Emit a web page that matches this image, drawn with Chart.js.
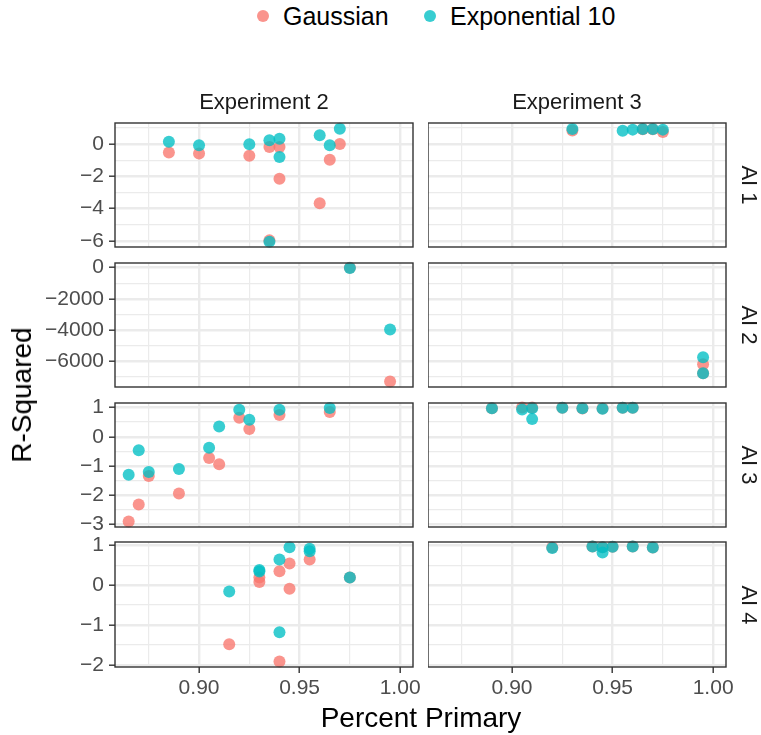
<!DOCTYPE html>
<html>
<head>
<meta charset="utf-8">
<script src="https://cdn.jsdelivr.net/npm/chart.js@4.4.0/dist/chart.umd.min.js"></script>
<style>
  body { margin: 0; background: #fff; font-family: "Liberation Sans", Arial, sans-serif; }
  #wrap { position: relative; width: 761px; height: 735px; overflow: hidden; }
  canvas { position: absolute; }
  .lbl { position: absolute; white-space: nowrap; color: #1A1A1A; line-height: 1; }
  .dot { position: absolute; width: 12px; height: 12px; border-radius: 50%; }
</style>
</head>
<body>
<div id="wrap"></div>
<script>
// tick values
var xMajor = [0.90, 0.95, 1.00];
var xMinor = [0.875, 0.925, 0.975];
var yMajor = [[0, -2, -4, -6], [0, -2000, -4000, -6000], [1, 0, -1, -2, -3], [1, 0, -1, -2]];
var yMinor = [[1, -1, -3, -5], [-1000, -3000, -5000, -7000], [0.5, -0.5, -1.5, -2.5], [0.5, -0.5, -1.5]];
var yLimits = [[-6.37, 1.3], [-7680, 300], [-3.08, 1.15], [-2.05, 1.08]];
var xLimits = [0.8582, 1.0064];

var columns = ["Experiment 2", "Experiment 3"];
var rows = ["AI 1", "AI 2", "AI 3", "AI 4"];
var seriesNames = ["Gaussian", "Exponential 10"];

// [percent primary, r-squared]
var e2ai1Gauss = [[0.885,-0.52],[0.90,-0.58],[0.925,-0.72],[0.935,-0.19],[0.94,-0.19],[0.94,-2.15],[0.96,-3.67],[0.965,-0.97],[0.97,0.0],[0.935,-5.96]];
var e2ai1Exp = [[0.885,0.14],[0.90,-0.08],[0.925,-0.02],[0.935,0.23],[0.94,0.33],[0.94,-0.8],[0.96,0.54],[0.965,-0.08],[0.97,0.95],[0.935,-6.05]];
var e3ai1Gauss = [[0.93,0.84],[0.965,0.91],[0.97,0.92],[0.975,0.74]];
var e3ai1Exp = [[0.93,0.93],[0.955,0.82],[0.96,0.89],[0.965,0.93],[0.97,0.93],[0.975,0.89]];

var e2ai2Gauss = [[0.975,-10],[0.995,-7330]];
var e2ai2Exp = [[0.975,-20],[0.995,-3980]];
var e3ai2Gauss = [[0.995,-6210],[0.995,-6790]];
var e3ai2Exp = [[0.995,-5760],[0.995,-6790]];

var e2ai3Gauss = [[0.865,-2.89],[0.87,-2.31],[0.875,-1.34],[0.89,-1.94],[0.905,-0.73],[0.91,-0.94],[0.92,0.65],[0.925,0.26],[0.94,0.74],[0.965,0.84]];
var e2ai3Exp = [[0.865,-1.30],[0.87,-0.46],[0.875,-1.2],[0.89,-1.10],[0.905,-0.38],[0.91,0.35],[0.92,0.92],[0.925,0.58],[0.94,0.92],[0.965,0.98]];
var e3ai3Gauss = [[0.89,0.97],[0.905,1.0],[0.91,1.0],[0.925,0.99],[0.935,0.96],[0.945,0.96],[0.955,0.99],[0.96,0.99]];
var e3ai3Exp = [[0.89,0.97],[0.905,0.93],[0.91,0.97],[0.91,0.60],[0.925,0.99],[0.935,0.97],[0.945,0.95],[0.955,0.99],[0.96,0.99]];

var e2ai4Gauss = [[0.915,-1.48],[0.93,0.19],[0.93,0.08],[0.94,0.35],[0.94,-1.91],[0.945,0.54],[0.945,-0.09],[0.955,0.64],[0.975,0.19]];
var e2ai4Exp = [[0.915,-0.16],[0.93,0.38],[0.93,0.34],[0.94,0.64],[0.94,-1.18],[0.945,0.95],[0.955,0.91],[0.955,0.85],[0.975,0.19]];
var e3ai4Gauss = [[0.92,0.94],[0.94,0.97],[0.945,0.95],[0.95,0.96],[0.96,0.97],[0.97,0.94]];
var e3ai4Exp = [[0.92,0.93],[0.94,0.97],[0.945,0.95],[0.945,0.82],[0.95,0.96],[0.96,0.97],[0.97,0.94]];

var gaussData = [[e2ai1Gauss, e2ai2Gauss, e2ai3Gauss, e2ai4Gauss], [e3ai1Gauss, e3ai2Gauss, e3ai3Gauss, e3ai4Gauss]];
var expData = [[e2ai1Exp, e2ai2Exp, e2ai3Exp, e2ai4Exp], [e3ai1Exp, e3ai2Exp, e3ai3Exp, e3ai4Exp]];

var red = "rgba(248,118,109,0.78)";
var teal = "rgba(0,191,196,0.78)";

// panel geometry
var colLeft = [115, 428];
var panelW = 298;
var rowTop = [123, 263, 403, 542];
var rowH = [124, 124, 124, 125];
var padTop = 20, padBottom = 20, padRight = 26, xAxisH = 42;

var wrap = document.getElementById("wrap");

function isIn(list, v) {
  return list.some(function (m) { return Math.abs(m - v) < 1e-9; });
}
function fmtY(v) {
  return v < 0 ? "\u2212" + Math.abs(v) : String(v);
}

var borderPlugin = {
  id: "panelBorder",
  afterDatasetsDraw: function (chart) {
    var a = chart.chartArea, ctx = chart.ctx;
    ctx.save();
    ctx.strokeStyle = "#333333";
    ctx.lineWidth = 1.4;
    ctx.strokeRect(a.left, a.top, a.right - a.left, a.bottom - a.top);
    ctx.restore();
  }
};

function toPoints(arr) {
  return arr.map(function (p) { return { x: p[0], y: p[1] }; });
}

function makePanel(c, r) {
  var yW = c == 0 ? 115 : 0;
  var left = c == 0 ? 0 : colLeft[1];
  var bottom = r == 3;
  var pb = bottom ? 0 : padBottom;
  var cv = document.createElement("canvas");
  cv.width = yW + panelW + padRight;
  cv.height = padTop + rowH[r] + (bottom ? xAxisH : pb);
  cv.style.left = left + "px";
  cv.style.top = (rowTop[r] - padTop) + "px";
  wrap.appendChild(cv);

  var xTicks = xMajor.concat(xMinor).sort();
  var yTicks = yMajor[r].concat(yMinor[r]);
  var tickFont = { family: "'Liberation Sans', Arial, sans-serif", size: 21 };

  new Chart(cv, {
    type: "scatter",
    data: {
      datasets: [
        { label: seriesNames[0], data: toPoints(gaussData[c][r]), backgroundColor: red, order: 1 },
        { label: seriesNames[1], data: toPoints(expData[c][r]), backgroundColor: teal, order: 0 }
      ]
    },
    options: {
      responsive: false,
      devicePixelRatio: 1,
      animation: false,
      layout: { autoPadding: false, padding: { top: padTop, right: padRight, left: 0, bottom: pb } },
      elements: { point: { radius: 6, borderWidth: 0, hoverRadius: 6 } },
      clip: false,
      plugins: { legend: { display: false }, tooltip: { enabled: false } },
      scales: {
        x: {
          type: "linear",
          min: xLimits[0], max: xLimits[1],
          afterBuildTicks: function (s) { s.ticks = xTicks.map(function (v) { return { value: v }; }); },
          afterFit: function (s) { s.height = bottom ? xAxisH : 0; },
          border: { display: false },
          grid: {
            color: "#EBEBEB",
            lineWidth: function (ctx) { return isIn(xMajor, ctx.tick.value) ? 2.4 : 1.2; },
            drawTicks: bottom,
            tickLength: 6,
            tickWidth: 1.4,
            tickColor: function (ctx) { return isIn(xMajor, ctx.tick.value) ? "#333333" : "rgba(0,0,0,0)"; }
          },
          ticks: {
            display: bottom,
            autoSkip: false,
            maxRotation: 0,
            padding: 3,
            color: "#4D4D4D",
            font: tickFont,
            callback: function (v) { return isIn(xMajor, v) ? v.toFixed(2) : ""; }
          }
        },
        y: {
          type: "linear",
          min: yLimits[r][0], max: yLimits[r][1],
          afterBuildTicks: function (s) { s.ticks = yTicks.map(function (v) { return { value: v }; }); },
          afterFit: function (s) { s.width = yW; },
          border: { display: false },
          grid: {
            color: "#EBEBEB",
            lineWidth: function (ctx) { return isIn(yMajor[r], ctx.tick.value) ? 2.4 : 1.2; },
            drawTicks: c == 0,
            tickLength: 6,
            tickWidth: 1.4,
            tickColor: function (ctx) { return isIn(yMajor[r], ctx.tick.value) ? "#333333" : "rgba(0,0,0,0)"; }
          },
          ticks: {
            display: c == 0,
            autoSkip: false,
            padding: 5,
            color: "#4D4D4D",
            font: tickFont,
            callback: function (v) { return isIn(yMajor[r], v) ? fmtY(v) : ""; }
          }
        }
      }
    },
    plugins: [borderPlugin]
  });
}

for (var c = 0; c < 2; c++) {
  for (var r = 0; r < 4; r++) {
    makePanel(c, r);
  }
}

function addText(txt, x, y, size, rot, color) {
  var d = document.createElement("div");
  d.className = "lbl";
  d.textContent = txt;
  d.style.fontSize = size + "px";
  if (color) d.style.color = color;
  d.style.left = x + "px";
  d.style.top = y + "px";
  d.style.transform = "translate(-50%,-50%)" + (rot ? " rotate(" + rot + "deg)" : "");
  wrap.appendChild(d);
  return d;
}

// strips
for (var i = 0; i < 2; i++) {
  addText(columns[i], colLeft[i] + panelW / 2, 102, 22);
}
for (var j = 0; j < 4; j++) {
  addText(rows[j], 749, rowTop[j] + rowH[j] / 2, 22, 90);
}

// axis titles
addText("Percent Primary", 421, 718, 28, 0, "#000");
addText("R-Squared", 22, 395, 28, -90, "#000");

// legend
var legendX = [263, 430];
var legendCol = [red, teal];
for (var k = 0; k < 2; k++) {
  var dot = document.createElement("div");
  dot.className = "dot";
  dot.style.background = legendCol[k];
  dot.style.left = (legendX[k] - 6) + "px";
  dot.style.top = (16 - 6) + "px";
  wrap.appendChild(dot);
  var t = addText(seriesNames[k], legendX[k] + 20, 16, 25, 0, "#000");
  t.style.transform = "translate(0,-50%)";
}
</script>
</body>
</html>
